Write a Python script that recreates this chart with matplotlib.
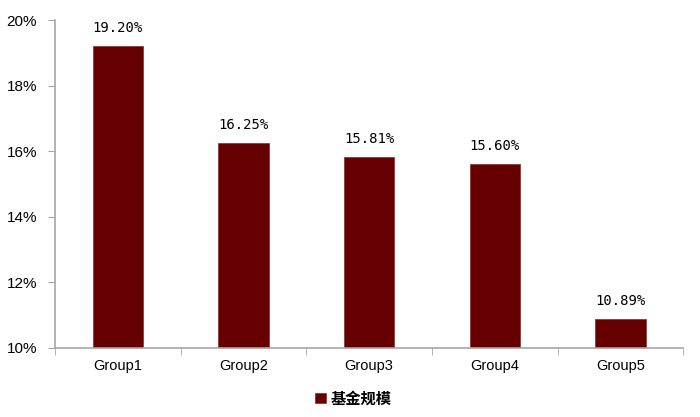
import matplotlib
matplotlib.use("Agg")
import matplotlib.pyplot as plt
from matplotlib.ticker import FuncFormatter

plt.rcParams['font.family'] = ['Liberation Sans', 'Noto Sans CJK SC', 'DejaVu Sans']

categories = ["Group1", "Group2", "Group3", "Group4", "Group5"]
values = [19.20, 16.25, 15.81, 15.60, 10.89]
labels = ["19.20%", "16.25%", "15.81%", "15.60%", "10.89%"]
series_name = "基金规模"
yticks = [10, 12, 14, 16, 18, 20]

color = "#660000"
axis_color = "#a6a6a6"

fig = plt.figure(figsize=(7, 4.17), dpi=100)
ax = fig.add_axes([0.0786, 0.1655, 0.8974, 0.7865])

x = list(range(len(categories)))
bars = ax.bar(x, [v - 10 for v in values], bottom=10, width=0.4, color=color,
              edgecolor="#8c3a3a", linewidth=0.6, label=series_name)

for xi, v, lab in zip(x, values, labels):
    ax.annotate(lab, (xi, v), xytext=(0, 8), textcoords="offset points",
                ha="center", va="bottom", fontsize=10,
                family=['DejaVu Sans Mono', 'DejaVu Sans'])

ax.set_xlim(-0.5, len(categories) - 0.5)
ax.set_ylim(10, 20)
ax.set_yticks(yticks)
ax.yaxis.set_major_formatter(FuncFormatter(lambda v, p: f"{v:.0f}%"))
ax.set_xticks(x)
ax.set_xticklabels(categories)
ax.set_xticks([i - 0.5 for i in range(len(categories) + 1)], minor=True)
ax.tick_params(axis='x', which='major', length=0, pad=8, labelsize=10.5)
ax.tick_params(axis='x', which='minor', length=5, color=axis_color, direction='out')
ax.tick_params(axis='y', length=5, color=axis_color, direction='out', labelsize=11, pad=8)

for s in ["top", "right"]:
    ax.spines[s].set_visible(False)
for s in ["left", "bottom"]:
    ax.spines[s].set_color(axis_color)
    ax.spines[s].set_linewidth(1.2)

leg = fig.legend(handles=[bars], labels=[series_name], loc="center",
                 bbox_to_anchor=(0.505, 0.045), frameon=False,
                 handlelength=0.7, handleheight=0.7, handletextpad=0.3,
                 prop={'family': ['Noto Sans CJK SC', 'DejaVu Sans'], 'size': 11, 'weight': 'bold'})

fig.savefig("out.png", dpi=100)
